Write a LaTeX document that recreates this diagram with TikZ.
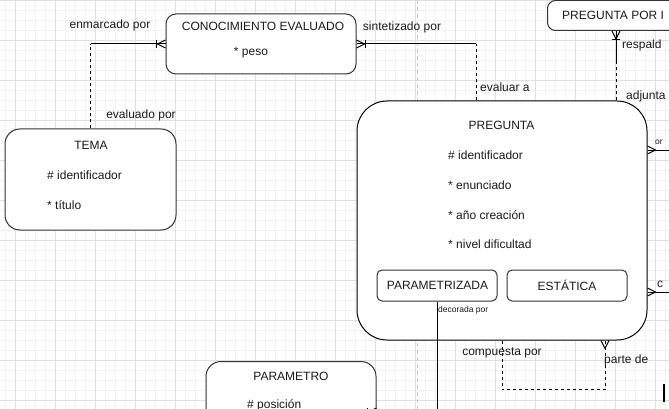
\documentclass[tikz,border=0pt]{standalone}
\usepackage{fontspec}
\setmainfont{Liberation Sans}
\definecolor{gmin}{HTML}{F2F2F2}
\definecolor{gmaj}{HTML}{E0E0E0}
\definecolor{pgline}{HTML}{C8C8C8}
\definecolor{bord}{HTML}{333333}
\definecolor{txt}{HTML}{1A1A1A}
\newcommand{\fnorm}{\fontsize{12}{14}\selectfont}
\newcommand{\fsmall}{\fontsize{8.5}{10}\selectfont}
\tikzset{
  ent/.style={draw=bord, fill=white, line width=1pt, rounded corners=10pt, inner sep=0pt},
  txtlbl/.style={font=\fnorm, text=txt, inner sep=0pt},
  smalllbl/.style={font=\fsmall, text=txt, inner sep=0pt},
  conn/.style={line width=1pt, draw=black},
  optl/.style={conn, dash pattern=on 3pt off 3pt},
  cfoot/.pic={\draw[line width=1pt] (0,-4) -- (8,0) -- (0,4);},
  cfootbar/.pic={\draw[line width=1pt] (0,-4) -- (8,0) -- (0,4); \draw[line width=1pt] (9,-4) -- (9,4);}
}
\begin{document}
\begin{tikzpicture}[x=1pt,y=-1pt]
\useasboundingbox (0,0) rectangle (669,409);
\clip (0,0) rectangle (669,409);
\fill[white] (0,0) rectangle (669,409);
% grid
\foreach \gx in {5,15,...,665} \draw[gmin, line width=0.8pt] (\gx,0) -- (\gx,409);
\foreach \gy in {0,10,...,400} \draw[gmin, line width=0.8pt] (0,\gy) -- (669,\gy);
\foreach \gx in {15,55,...,655} \draw[gmaj, line width=0.8pt] (\gx,0) -- (\gx,409);
\foreach \gy in {0,40,...,400} \draw[gmaj, line width=0.8pt] (0,\gy) -- (669,\gy);
% page break line
\draw[pgline, line width=0.8pt, dash pattern=on 4pt off 3pt] (417,0) -- (417,409);

% entities
\node[ent, minimum width=190pt, minimum height=60pt] (conoc) at (261,44) {};
\node[txtlbl] (conocT) at (263,26) {CONOCIMIENTO EVALUADO};
\node[txtlbl] (conocA) at (251,53) {* peso};

\node[ent, rounded corners=15pt, minimum width=171pt, minimum height=101pt] (tema) at (90.5,179.5) {};
\node[txtlbl] (temaT) at (91,145) {TEMA};
\node[txtlbl, anchor=west] (temaA) at (47,175) {\# identificador};
\node[txtlbl, anchor=west] (temaB) at (47,205) {* título};

\node[ent, rounded corners=8pt, minimum width=160pt, minimum height=30pt, anchor=north west] (pxb) at (547,0) {};
\node[txtlbl, anchor=west] (pxbT) at (562,15) {PREGUNTA POR I};

\node[ent, draw=black, rounded corners=30pt, minimum width=290pt, minimum height=239pt] (preg) at (502,220.5) {};
\node[txtlbl] (pregT) at (501.5,125) {PREGUNTA};
\node[txtlbl, anchor=west] (pregA) at (448,155) {\# identificador};
\node[txtlbl, anchor=west] (pregB) at (448,185) {* enunciado};
\node[txtlbl, anchor=west] (pregC) at (448,215) {* año creación};
\node[txtlbl, anchor=west] (pregD) at (448,244) {* nivel dificultad};

\node[ent, rounded corners=5pt, minimum width=120pt, minimum height=31pt] (parz) at (437,285.5) {};
\node[txtlbl] (parzT) at (437.5,285.5) {PARAMETRIZADA};
\node[ent, rounded corners=5pt, minimum width=120pt, minimum height=31pt] (esta) at (567,285.5) {};
\node[txtlbl] (estaT) at (567,285.5) {ESTÁTICA};

\node[ent, rounded corners=15pt, minimum width=170pt, minimum height=100pt, anchor=north] (parm) at (291,361) {};
\node[txtlbl] (parmT) at (291,376) {PARAMETRO};
\node[txtlbl, anchor=west] (parmA) at (247,405) {\# posición};

% connectors
\draw[optl] (tema.north) -- (tema.north |- conoc.west);
\draw[conn] (tema.north |- conoc.west) -- (conoc.west);
\pic[rotate=180] at (conoc.west) {cfootbar};
\node[txtlbl] (l1) at (110,25) {enmarcado por};
\node[txtlbl] (l2) at (141,115) {evaluado por};

\coordinate (k2) at ([xshift=-26pt]preg.north);
\draw[optl] (k2) -- (k2 |- conoc.east);
\draw[conn] (k2 |- conoc.east) -- (conoc.east);
\pic at (conoc.east) {cfootbar};
\node[txtlbl] (l3) at (402,27) {sintetizado por};
\node[txtlbl, anchor=west] (l4) at (480,87) {evaluar a};

\coordinate (k3) at ([xshift=114pt]preg.north);
\coordinate (k3m) at (616,62);
\draw[optl] (k3) -- (k3m);
\draw[conn] (k3m) -- (k3m |- pxb.south);
\pic[rotate=-90] at (k3m |- pxb.south) {cfootbar};
\node[txtlbl, anchor=west] (l5) at (622,45) {respald};
\node[txtlbl, anchor=west] (l6) at (626,96) {adjunta};

\coordinate (rA) at (680,150);
\coordinate (rB) at (680,292);
\draw[conn] (preg.east |- rA) -- (rA);
\pic at (preg.east |- rA) {cfoot};
\draw[conn] (preg.east |- rB) -- (rB);
\pic at (preg.east |- rB) {cfoot};
\node[smalllbl, anchor=west] (l7) at (655,142) {or};
\node[txtlbl, anchor=west] (l8) at (657,284) {c};

\coordinate (k5) at ([xshift=103pt]preg.south);
\draw[optl] (preg.south) -- ++(0,49) -| (k5);
\pic[rotate=-90] at (k5) {cfoot};
\node[txtlbl] (l9) at (502,353) {compuesta por};
\node[txtlbl, anchor=west] (l10) at (604,360) {parte de};

\coordinate (k4) at (437,412);
\draw[conn] (parz.south) -- (k4) -- (parm.east |- k4);
\pic[rotate=180] at (parm.east |- k4) {cfootbar};
\node[smalllbl, anchor=west] (l11) at (438,310) {decorada por};

% caret
\draw[black, line width=2pt] (664,384) -- (664,402);
\end{tikzpicture}
\end{document}
